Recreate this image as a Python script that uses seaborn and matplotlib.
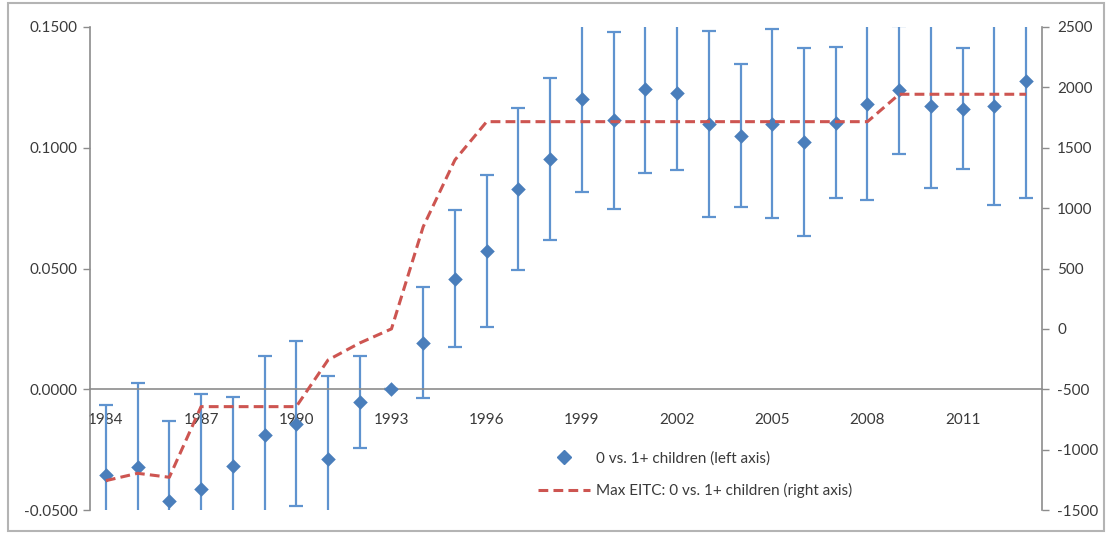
"""
Event-study style chart: estimates with error bars (left axis)
and the max EITC gap on a second axis (right axis).
"""

import matplotlib
matplotlib.use('Agg')
import matplotlib.pyplot as plt
import matplotlib.ticker as mticker
from matplotlib.lines import Line2D
from matplotlib.patches import Rectangle
import pandas as pd
import seaborn as sns

# Data
years = list(range(1984, 2014))
estimate = [-0.0356, -0.0324, -0.0464, -0.0415, -0.0317, -0.0190, -0.0142, -0.0287,
            -0.0052, 0.0000, 0.0192, 0.0458, 0.0572, 0.0830, 0.0952, 0.1203,
            0.1113, 0.1245, 0.1228, 0.1097, 0.1049, 0.1100, 0.1024, 0.1104,
            0.1180, 0.1238, 0.1171, 0.1162, 0.1171, 0.1275]
# half width of the error bars
err_half = [0.0290, 0.0348, 0.0333, 0.0397, 0.0283, 0.0327, 0.0340, 0.0342,
            0.0190, 0.0000, 0.0230, 0.0283, 0.0316, 0.0335, 0.0335, 0.0386,
            0.0368, 0.0348, 0.0322, 0.0385, 0.0296, 0.0390, 0.0389, 0.0312,
            0.0395, 0.0265, 0.0338, 0.0250, 0.0409, 0.0483]
max_eitc = [-1257, -1196, -1229, -644, -644, -644, -644, -258, -117, 0,
            846, 1399, 1716, 1716, 1716, 1716, 1716, 1716, 1716, 1716,
            1716, 1716, 1716, 1716, 1716, 1943, 1943, 1943, 1943, 1943]

left_ticks = [-0.05, 0.0, 0.05, 0.10, 0.15]
right_ticks = [-1500, -1000, -500, 0, 500, 1000, 1500, 2000, 2500]
year_labels = [1984, 1987, 1990, 1993, 1996, 1999, 2002, 2005, 2008, 2011]

label_est = '0 vs. 1+ children (left axis)'
label_eitc = 'Max EITC: 0 vs. 1+ children (right axis)'

df = pd.DataFrame({'year': years, 'estimate': estimate, 'err': err_half,
                   'max_eitc': max_eitc})

sns.set_style('white')
plt.rcParams['font.family'] = ['Lato', 'DejaVu Sans']

blue = '#4a7ebb'
blue_bar = '#5f93cf'
red = '#cd5551'
axis_grey = '#8c8c8c'
text_col = '#3a3a3a'

W, H = 1107, 533
fig = plt.figure(figsize=(W / 100, H / 100), dpi=100)
ax = fig.add_axes([90 / W, 1 - 510 / H, (1042 - 90) / W, (510 - 27) / H])

# chart border
fig.patches.append(Rectangle((8 / W, 2 / H), (1104 - 8) / W, (530 - 2) / H,
                             transform=fig.transFigure, fill=False,
                             edgecolor='#b4b4b4', linewidth=1.5))

# error bars then diamond markers
ax.errorbar(df['year'], df['estimate'], yerr=df['err'], fmt='none',
            ecolor=blue_bar, elinewidth=1.6, capsize=5, capthick=1.6, zorder=2)
sns.scatterplot(data=df, x='year', y='estimate', ax=ax, marker='D', s=55,
                color=blue, edgecolor=blue, linewidth=0, zorder=3, legend=False)

ax.set_xlim(1983.5, 2013.5)
ax.set_ylim(-0.05, 0.15)

# x axis sits on zero
for side in ['top', 'right']:
    ax.spines[side].set_visible(False)
ax.spines['bottom'].set_position(('data', 0))
ax.spines['bottom'].set_color(axis_grey)
ax.spines['left'].set_color(axis_grey)
ax.spines['bottom'].set_linewidth(1.2)
ax.spines['left'].set_linewidth(1.2)

ax.set_xticks(year_labels)
ax.set_xticklabels([str(y) for y in year_labels])
ax.set_xticks([y - 0.5 for y in years] + [years[-1] + 0.5], minor=True)
ax.tick_params(axis='x', which='major', length=0, pad=17, labelsize=11,
               labelcolor=text_col)
ax.tick_params(axis='x', which='minor', length=5, width=1, color=axis_grey,
               direction='out')

ax.set_yticks(left_ticks)
ax.yaxis.set_major_formatter(mticker.FormatStrFormatter('%.4f'))
ax.tick_params(axis='y', length=5, width=1, color=axis_grey, direction='out',
               labelsize=11, labelcolor=text_col, pad=4)
ax.set_xlabel('')
ax.set_ylabel('')

# right axis with the max EITC line
ax2 = ax.twinx()
sns.lineplot(data=df, x='year', y='max_eitc', ax=ax2, color=red, linewidth=2.2,
             linestyle=(0, (3.2, 1.7)), legend=False)
ax2.set_ylim(-1500, 2500)
ax2.set_yticks(right_ticks)
ax2.yaxis.set_major_formatter(mticker.FuncFormatter(lambda v, p: '%d' % v))
for side in ['top', 'left', 'bottom']:
    ax2.spines[side].set_visible(False)
ax2.spines['right'].set_color(axis_grey)
ax2.spines['right'].set_linewidth(1.2)
ax2.tick_params(axis='y', length=5, width=1, color=axis_grey, direction='out',
                labelsize=11, labelcolor=text_col, pad=6)
ax2.set_xlabel('')
ax2.set_ylabel('')
ax2.set_xlim(1983.5, 2013.5)

handles = [Line2D([], [], marker='D', color=blue, linestyle='none', markersize=7),
           Line2D([], [], color=red, linewidth=2.2, linestyle=(0, (3.2, 1.7)))]
fig.legend(handles, [label_est, label_eitc], loc='upper left',
           bbox_to_anchor=(538 / W, 1 - 451 / H), frameon=False, fontsize=11,
           handlelength=3.4, handletextpad=0.4, labelspacing=1.15, borderpad=0,
           borderaxespad=0, labelcolor=text_col)

fig.savefig('out.png', dpi=100)
